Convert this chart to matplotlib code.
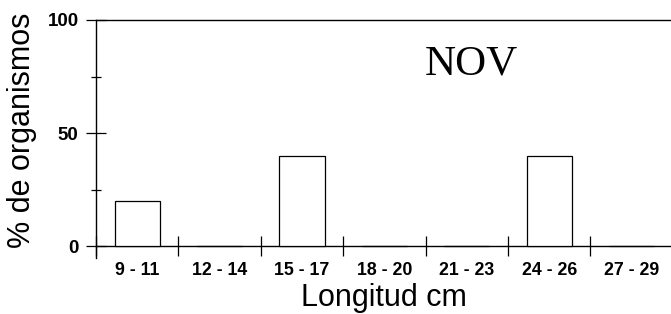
import matplotlib
matplotlib.use("Agg")
import matplotlib.pyplot as plt
import numpy as np
from matplotlib.ticker import FixedLocator, NullFormatter, FixedFormatter

categories = ["9 - 11", "12 - 14", "15 - 17", "18 - 20", "21 - 23", "24 - 26", "27 - 29"]
values = [20, 0, 40, 0, 0, 40, 0]
yticks = [0, 50, 100]
yminor = [25, 75]
month = "NOV"

plt.rcParams['font.family'] = ['Liberation Sans', 'DejaVu Sans']

fig = plt.figure(figsize=(6.71, 3.14), dpi=100)
ax = fig.add_axes([96/671, 1-258/314, 575/671, 238/314])

n = len(categories)
centers = np.arange(n) + 0.5
ax.bar(centers, values, width=0.55, facecolor='white', edgecolor='black', linewidth=0.9, zorder=3)

ax.set_xlim(0, 575/82.4)
ax.set_ylim(-5.3, 100)

for s in ['left', 'top', 'bottom']:
    ax.spines[s].set_linewidth(1.0)
ax.spines['right'].set_visible(False)
ax.spines['bottom'].set_position(('data', 0))

# x: boundaries as major ticks, labels at centers via minor ticks
ax.xaxis.set_major_locator(FixedLocator(np.arange(0, n)))
ax.xaxis.set_major_formatter(NullFormatter())
ax.xaxis.set_minor_locator(FixedLocator(centers))
ax.xaxis.set_minor_formatter(FixedFormatter(categories))
ax.tick_params(axis='x', which='major', direction='inout', length=14.4, width=0.9)
ax.tick_params(axis='x', which='minor', length=0, pad=11.5, labelsize=12.8)
for lab in ax.get_xticklabels(minor=True):
    lab.set_fontweight('bold')

# y
ax.yaxis.set_major_locator(FixedLocator(yticks))
ax.yaxis.set_minor_locator(FixedLocator(yminor))
ax.tick_params(axis='y', which='major', direction='inout', length=15, width=0.9, pad=5, labelsize=13.5)
ax.tick_params(axis='y', which='minor', direction='inout', length=7, width=0.9)
for lab in ax.get_yticklabels():
    lab.set_fontweight('bold')

ax.set_ylabel("% de organismos", fontsize=22)
ax.yaxis.set_label_coords(-0.1026, 0.538)
ax.set_xlabel("Longitud cm", fontsize=22, va='top')
ax.xaxis.set_label_coords(0.5, -0.105)

ax.text(4.55, 80.5, month, fontsize=31, family=['Liberation Serif', 'DejaVu Serif'],
        ha='center', va='center')

fig.savefig("out.png", dpi=100)
